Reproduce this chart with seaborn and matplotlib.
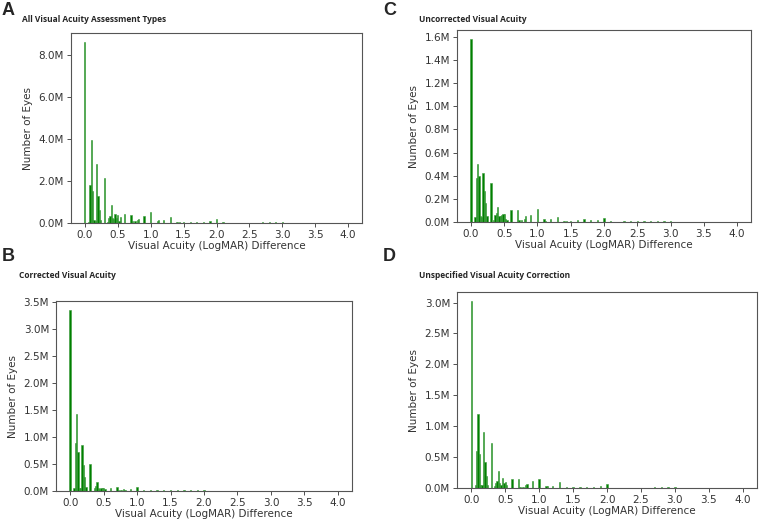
import numpy as np
import pandas as pd
import matplotlib
matplotlib.use("Agg")
import matplotlib.pyplot as plt
from matplotlib.ticker import FuncFormatter
import seaborn as sns

# LogMAR difference values that carry counts (shared by all panels)
logmar = [0.00, 0.06, 0.08, 0.10, 0.12, 0.14, 0.16, 0.18, 0.20, 0.22,
          0.24, 0.30, 0.34, 0.36, 0.38, 0.40, 0.42, 0.44, 0.46, 0.48,
          0.50, 0.52, 0.54, 0.60, 0.70, 0.72, 0.76, 0.80, 0.82, 0.90,
          1.00, 1.10, 1.12, 1.20, 1.30, 1.40, 1.44, 1.50, 1.60, 1.70,
          1.80, 1.90, 2.00, 2.10, 2.30, 2.40, 2.50, 2.60, 2.70, 2.80,
          2.90, 3.00]

# number of eyes, in millions
all_types = [8.6, 0.05, 1.8, 3.95, 1.5, 0.15, 0.1, 2.8, 1.3, 0.6,
             0.15, 2.15, 0.05, 0.25, 0.35, 0.85, 0.25, 0.2, 0.45, 0.25,
             0.4, 0.1, 0.3, 0.45, 0.4, 0.1, 0.08, 0.15, 0.2, 0.35,
             0.5, 0.1, 0.12, 0.15, 0.3, 0.05, 0.05, 0.05, 0.04, 0.04,
             0.05, 0.08, 0.18, 0.04, 0, 0, 0, 0, 0.04, 0.04,
             0.04, 0.05]
corrected = [3.35, 0.05, 0.88, 1.43, 0.73, 0.05, 0.05, 0.86, 0.49, 0.25,
             0.08, 0.5, 0, 0.05, 0.1, 0.16, 0.05, 0.04, 0.06, 0.05,
             0.05, 0.03, 0, 0.06, 0.08, 0.02, 0.02, 0.03, 0.02, 0.03,
             0.08, 0.02, 0, 0.015, 0.015, 0.015, 0, 0.015, 0.015, 0.015,
             0.015, 0.015, 0.02, 0, 0, 0, 0, 0, 0, 0,
             0, 0]
uncorrected = [1.58, 0.04, 0.38, 0.5, 0.4, 0.05, 0.04, 0.42, 0.27, 0.16,
               0.05, 0.34, 0.02, 0.06, 0.08, 0.13, 0.05, 0.05, 0.06, 0.07,
               0.07, 0.03, 0.02, 0.1, 0.1, 0.02, 0.02, 0.03, 0.05, 0.06,
               0.11, 0.025, 0.01, 0.03, 0.04, 0.01, 0.01, 0.01, 0.02, 0.025,
               0.02, 0.02, 0.035, 0.01, 0.01, 0.01, 0.01, 0.01, 0.01, 0.01,
               0.01, 0.01]
unspecified = [3.02, 0.05, 0.6, 1.2, 0.55, 0.05, 0.05, 0.9, 0.42, 0.2,
               0.05, 0.72, 0.03, 0.08, 0.12, 0.28, 0.08, 0.05, 0.16, 0.08,
               0.1, 0.05, 0, 0.15, 0.14, 0.02, 0.02, 0.05, 0.07, 0.11,
               0.15, 0.04, 0.03, 0.04, 0.09, 0.02, 0, 0.02, 0.02, 0.02,
               0.02, 0.03, 0.06, 0, 0, 0, 0, 0, 0.02, 0.02,
               0.02, 0.02]

panels = [
    ("A", "All Visual Acuity Assessment Types", all_types, [71, 33, 362, 223], (2, 2), (22, 19)),
    ("C", "Uncorrected Visual Acuity", uncorrected, [457, 30, 751, 222], (383, 2), (419, 19)),
    ("B", "Corrected Visual Acuity", corrected, [56, 301, 352, 491], (2, 248), (19, 275)),
    ("D", "Unspecified Visual Acuity Correction", unspecified, [457, 292, 757, 488], (383, 248), (419, 275)),
]

sns.set_style("ticks")
plt.rcParams["font.family"] = ["DejaVu Sans"]

W, H = 759, 521
fig = plt.figure(figsize=(W / 100, H / 100), dpi=100)
fmt = FuncFormatter(lambda v, p: f"{v:.1f}M")

for letter, title, counts, box, lpos, tpos in panels:
    l, t, r, b = box
    ax = fig.add_axes([l / W, 1 - b / H, (r - l) / W, (b - t) / H])
    df = pd.DataFrame({"logmar": logmar, "eyes": counts})
    sns.histplot(data=df, x="logmar", weights="eyes", binwidth=0.02, binrange=(-0.01, 4.01),
                 ax=ax, color="green", edgecolor="#3a9a3a", linewidth=0.4, alpha=1)
    ax.set_xlim(-0.21, 4.21)
    ax.set_ylim(0, max(counts) * 1.05)
    ax.set_xticks(np.arange(0, 4.01, 0.5))
    ax.yaxis.set_major_formatter(fmt)
    ax.set_xlabel("Visual Acuity (LogMAR) Difference", fontsize=7.5, color="#333333", labelpad=1)
    ax.set_ylabel("Number of Eyes", fontsize=7.5, color="#333333", labelpad=4)
    ax.tick_params(labelsize=7.5, colors="#333333", length=3, width=0.6, pad=2)
    for s in ax.spines.values():
        s.set_color("#555555")
        s.set_linewidth(0.8)
    fig.text(lpos[0] / W, 1 - lpos[1] / H, letter, fontsize=13, fontweight="bold",
             family="Liberation Sans", ha="left", va="top")
    fig.text(tpos[0] / W, 1 - tpos[1] / H, title, fontsize=6, fontweight="bold",
             family="Open Sans", ha="left", va="center")

fig.savefig("out.png", dpi=100)
